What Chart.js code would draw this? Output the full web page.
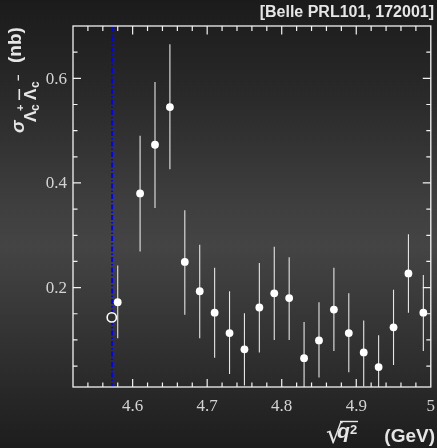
<!DOCTYPE html>
<html><head><meta charset="utf-8">
<script src="https://cdn.jsdelivr.net/npm/chart.js@4/dist/chart.umd.min.js"></script>
<style>
html,body{margin:0;padding:0;width:437px;height:448px;overflow:hidden;
background:linear-gradient(to bottom,#1b1b1b 0%,#2a2a2a 22%,#3e3e3e 45%,#444444 55%,#333333 75%,#1d1d1d 100%);}
canvas{display:block}
</style></head><body>
<canvas id="c" width="437" height="448"></canvas>
<script>
// ---- data ----
const energies      = [4.58, 4.61, 4.63, 4.65, 4.67, 4.69, 4.71, 4.73, 4.75, 4.77, 4.79, 4.81, 4.83, 4.85, 4.87, 4.89, 4.91, 4.93, 4.95, 4.97, 4.99];
const crossSections = [0.172, 0.380, 0.473, 0.545, 0.249, 0.193, 0.152, 0.113, 0.082, 0.162, 0.189, 0.180, 0.065, 0.099, 0.158, 0.113, 0.076, 0.048, 0.124, 0.227, 0.152];
const errorsUp      = [0.070, 0.110, 0.120, 0.120, 0.099, 0.089, 0.086, 0.080, 0.069, 0.085, 0.089, 0.078, 0.069, 0.073, 0.080, 0.076, 0.061, 0.061, 0.072, 0.075, 0.072];
const errorsDown    = [0.069, 0.111, 0.121, 0.119, 0.101, 0.090, 0.086, 0.078, 0.069, 0.086, 0.089, 0.080, 0.070, 0.071, 0.079, 0.075, 0.065, 0.060, 0.072, 0.075, 0.073];
const openEnergies  = [4.572];
const openValues    = [0.143];
const thresholdEnergy = [4.5725];
const xTickValues = [4.6, 4.7, 4.8, 4.9, 5.0];
const xTickLabels = ['4.6', '4.7', '4.8', '4.9', '5'];
const yTickValues = [0.2, 0.4, 0.6];
const yTickLabels = ['0.2', '0.4', '0.6'];
const xRange = [4.52, 5.0];
const yRange = [0.01, 0.70];
const xMinorStep = 0.02;
const yMinorStep = 0.05;
const titleText = '[Belle PRL101, 172001]';

const overlay = {
  id: 'overlay',
  beforeDatasetsDraw(chart) {
    const {ctx, chartArea: a, scales: {x, y}} = chart;
    ctx.save();
    ctx.beginPath(); ctx.rect(a.left, a.top, a.right - a.left, a.bottom - a.top); ctx.clip();
    // threshold line
    ctx.strokeStyle = '#0000ff'; ctx.lineWidth = 2; ctx.setLineDash([5, 2, 1.5, 2]);
    thresholdEnergy.forEach(e => {
      const px = x.getPixelForValue(e);
      ctx.beginPath(); ctx.moveTo(px, a.top); ctx.lineTo(px, a.bottom); ctx.stroke();
    });
    ctx.setLineDash([]);
    // error bars
    ctx.strokeStyle = '#e6e6e6'; ctx.lineWidth = 1.1;
    energies.forEach((e, i) => {
      const px = x.getPixelForValue(e);
      const t = y.getPixelForValue(crossSections[i] + errorsUp[i]);
      const b = y.getPixelForValue(crossSections[i] - errorsDown[i]);
      ctx.beginPath(); ctx.moveTo(px, t); ctx.lineTo(px, b); ctx.stroke();
    });
    ctx.restore();
  },
  afterDraw(chart) {
    const {ctx, chartArea: a, scales: {x, y}} = chart;
    ctx.save();
    ctx.strokeStyle = '#f2f2f2'; ctx.lineWidth = 1.3;
    ctx.strokeRect(a.left, a.top, a.right - a.left, a.bottom - a.top);
    ctx.lineWidth = 1.2;
    // x ticks (inward, bottom and top)
    const nx = Math.round((xRange[1] - xRange[0]) / xMinorStep);
    for (let k = 1; k < nx; k++) {
      const v = xRange[0] + k * xMinorStep;
      const major = xTickValues.some(t => Math.abs(t - v) < 1e-6);
      const px = x.getPixelForValue(v);
      const L = major ? 8 : 4.5;
      ctx.beginPath();
      ctx.moveTo(px, a.bottom); ctx.lineTo(px, a.bottom - L);
      ctx.moveTo(px, a.top); ctx.lineTo(px, a.top + L + 0.5);
      ctx.stroke();
    }
    const ny = Math.round((yRange[1] - 0) / yMinorStep);
    for (let k = 1; k < ny; k++) {
      const v = k * yMinorStep;
      if (v <= yRange[0]) continue;
      const major = yTickValues.some(t => Math.abs(t - v) < 1e-6);
      const py = y.getPixelForValue(v);
      const L = major ? 8 : 4.5;
      ctx.beginPath();
      ctx.moveTo(a.left, py); ctx.lineTo(a.left + L, py);
      ctx.moveTo(a.right, py); ctx.lineTo(a.right - L, py);
      ctx.stroke();
    }
    // tick labels
    ctx.fillStyle = '#d4d4d4';
    ctx.font = '17px "Liberation Serif"';
    ctx.textAlign = 'center'; ctx.textBaseline = 'alphabetic';
    xTickValues.forEach((v, i) => ctx.fillText(xTickLabels[i], x.getPixelForValue(v), a.bottom + 24));
    ctx.textAlign = 'right'; ctx.textBaseline = 'middle';
    yTickValues.forEach((v, i) => ctx.fillText(yTickLabels[i], a.left - 6, y.getPixelForValue(v) + 1));
    // title
    ctx.fillStyle = '#e6e6e6';
    ctx.textBaseline = 'alphabetic'; ctx.textAlign = 'right';
    ctx.font = 'bold 16px "Liberation Sans"';
    ctx.fillText(titleText, 434, 17);
    // x title
    ctx.font = 'bold 19px "Liberation Sans"';
    ctx.fillText('(GeV)', 435, 442);
    ctx.textAlign = 'left';
    ctx.font = 'bold 13px "Liberation Sans"';
    ctx.fillText('2', 350, 434);
    ctx.font = 'italic bold 21px "Liberation Sans"';
    ctx.fillText('q', 337, 438);
    ctx.font = '26px "DejaVu Sans"';
    ctx.fillText('\u221A', 326, 443);
    ctx.strokeStyle = '#e6e6e6'; ctx.lineWidth = 1.4;
    ctx.beginPath(); ctx.moveTo(340, 421.5); ctx.lineTo(358, 421.5); ctx.stroke();
    // y title (rotated)
    ctx.translate(23, 133);
    ctx.rotate(-Math.PI / 2);
    ctx.font = 'italic bold 19px "Liberation Sans"';
    ctx.fillText('\u03C3', 0, 1);
    ctx.font = 'bold 17px "Liberation Sans"';
    ctx.fillText('\u039B', 11, 12.5);
    ctx.font = 'bold 12px "Liberation Sans"';
    ctx.fillText('c', 22, 16);
    ctx.font = 'bold 11px "Liberation Sans"';
    ctx.fillText('+', 22, 1);
    ctx.font = 'bold 17px "Liberation Sans"';
    ctx.fillText('\u039B', 33, 12.5);
    ctx.fillRect(33, -4.5, 11, 1.6);
    ctx.font = 'bold 12px "Liberation Sans"';
    ctx.fillText('c', 45, 16);
    ctx.font = 'bold 11px "Liberation Sans"';
    ctx.fillText('\u2212', 52, -1);
    ctx.font = 'bold 19px "Liberation Sans"';
    ctx.fillText('(nb)', 70, -2);
    ctx.restore();
  }
};

new Chart(document.getElementById('c'), {
  type: 'scatter',
  data: {
    datasets: [
      {
        data: energies.map((e, i) => ({x: e, y: crossSections[i]})),
        pointRadius: 3.9, pointBackgroundColor: '#ffffff', pointBorderWidth: 0,
        showLine: false
      },
      {
        data: openEnergies.map((e, i) => ({x: e, y: openValues[i]})),
        pointRadius: 4.6, pointBackgroundColor: '#2f2f2f', pointBorderColor: '#ffffff', pointBorderWidth: 1.6,
        showLine: false
      }
    ]
  },
  options: {
    responsive: false, animation: false, devicePixelRatio: 1,
    layout: {padding: {left: 73, top: 26, right: 4, bottom: 61}},
    plugins: {legend: {display: false}, tooltip: {enabled: false}},
    scales: {
      x: {type: 'linear', min: xRange[0], max: xRange[1], display: false},
      y: {type: 'linear', min: yRange[0], max: yRange[1], display: false}
    }
  },
  plugins: [overlay]
});
</script>
</body></html>
